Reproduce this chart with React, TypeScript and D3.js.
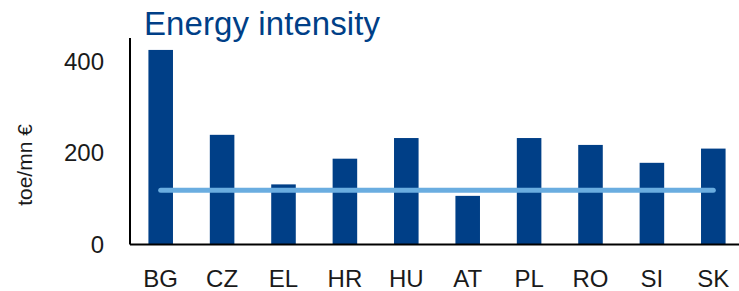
import React from 'react';
import * as d3 from 'd3';

const countries = ['BG', 'CZ', 'EL', 'HR', 'HU', 'AT', 'PL', 'RO', 'SI', 'SK'];
const intensity = [424, 239, 131, 187, 232, 106, 232, 217, 178, 209];
const euAverage = [118, 118, 118, 118, 118, 118, 118, 118, 118, 118];
const yTicks = [0, 200, 400];

const W = 739;
const H = 291;
const margin = { top: 38, right: -5, bottom: 46.5, left: 130 };

const App = () => {
  const innerW = W - margin.left - margin.right;
  const innerH = H - margin.top - margin.bottom;

  const x = d3.scaleBand().domain(countries).range([0, innerW]).paddingInner(0.6).paddingOuter(0.3);
  const y = d3.scaleLinear().domain([0, 450]).range([innerH, 0]);

  const line = d3.line<number>()
    .x((_, i) => (x(countries[i]) as number) + x.bandwidth() / 2)
    .y(d => y(d));

  const font = '"Liberation Sans", Arial, sans-serif';

  return (
    <svg width={W} height={H} style={{ position: 'absolute', left: 0, top: 0 }}>
      <text x={144} y={35} fontFamily={font} fontSize={33} textLength={236} fill="#003f87">Energy intensity</text>
      <text transform="translate(31.5,165) rotate(-90)" textAnchor="middle" fontFamily={font} fontSize={21} fill="#1a1a1a">toe/mn €</text>
      <g transform={`translate(${margin.left},${margin.top})`}>
        {countries.map((c, i) => (
          <rect key={c} x={x(c)} y={y(intensity[i])} width={x.bandwidth()} height={innerH - y(intensity[i])} fill="#003f87" />
        ))}
        <path d={line(euAverage) || ''} fill="none" stroke="#6aade0" strokeWidth={5} strokeLinecap="round" />
        <line x1={0} x2={0} y1={0} y2={innerH} stroke="#000" strokeWidth={2} />
        <line x1={0} x2={innerW} y1={innerH} y2={innerH} stroke="#000" strokeWidth={2} />
        {yTicks.map(t => (
          <text key={t} x={-26} y={y(t)} dy="0.36em" textAnchor="end" fontFamily={font} fontSize={24} fill="#1a1a1a">{t}</text>
        ))}
        {countries.map(c => (
          <text key={c} x={(x(c) as number) + x.bandwidth() / 2} y={innerH + 34} dy="0.36em" textAnchor="middle" fontFamily={font} fontSize={24} fill="#1a1a1a">{c}</text>
        ))}
      </g>
    </svg>
  );
};

export default App;
